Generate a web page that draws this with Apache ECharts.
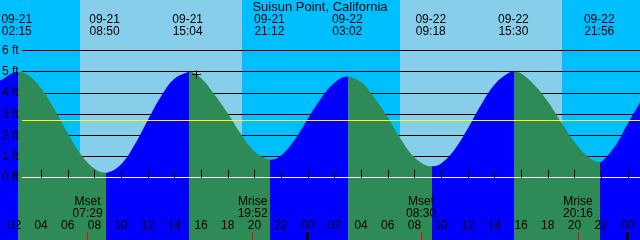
<!DOCTYPE html>
<html><head><meta charset="utf-8">
<script src="https://cdn.jsdelivr.net/npm/echarts@6/dist/echarts.min.js"></script>
<style>html,body{margin:0;padding:0;background:#00BFFF}#c{width:640px;height:240px}</style>
</head><body><div id="c"></div>
<script>
// ---------------- data ----------------
const title = 'Suisun Point, California';
const baseDay = 21;
const windowStartDate = '09-21';
const windowStartTime = '00:55';
const windowHours = 48;

// tide level readings (hours since 09-21 00:00, feet)
const tideHours = [0.917, 1, 2, 2.25, 3, 4, 5, 6, 7, 8, 8.833, 9, 10, 11, 12, 13, 14, 15, 15.067, 16, 17, 18, 19, 20, 21, 21.2, 22, 23, 24, 25, 26, 27, 27.033, 28, 29, 30, 31, 32, 33, 33.3, 34, 35, 36, 37, 38, 39, 39.5, 40, 41, 42, 43, 44, 45, 45.933, 46, 47, 48, 48.917];
const tideFeet  = [4.58, 4.6, 4.98, 5.0, 4.85, 4.22, 3.23, 2.10, 1.09, 0.43, 0.24, 0.25, 0.64, 1.55, 2.72, 3.85, 4.67, 4.99, 5.0, 4.7, 3.93, 3.04, 2.05, 1.25, 0.87, 0.85, 1.05, 1.78, 2.78, 3.74, 4.48, 4.78, 4.78, 4.52, 3.78, 2.84, 1.80, 0.97, 0.56, 0.54, 0.68, 1.32, 2.32, 3.44, 4.39, 4.92, 5.0, 4.92, 4.38, 3.6, 2.62, 1.7, 1.0, 0.73, 0.74, 1.45, 2.55, 3.55];

// high / low tide events
const extremaDates = ['09-21', '09-21', '09-21', '09-21', '09-22', '09-22', '09-22', '09-22'];
const extremaTimes = ['02:15', '08:50', '15:04', '21:12', '03:02', '09:18', '15:30', '21:56'];
const extremaKinds = ['high', 'low', 'high', 'low', 'high', 'low', 'high', 'low'];

// daylight
const dayStartDates = ['09-21', '09-22'];
const dayStartTimes = ['06:55', '06:55'];
const dayEndDates = ['09-21', '09-22'];
const dayEndTimes = ['19:04', '19:04'];

// moon events
const moonNames = ['Mset', 'Mrise', 'Mset', 'Mrise'];
const moonDates = ['09-21', '09-21', '09-22', '09-22'];
const moonTimes = ['07:29', '19:52', '08:30', '20:16'];

// level ticks (feet) and mean level
const levelTicks = [0, 1, 2, 3, 4, 5, 6];
const meanLevel = 2.70;

// hour ticks (hours since 09-21 00:00)
const hourTicks = [2, 4, 6, 8, 10, 12, 14, 16, 18, 20, 22, 24, 26, 28, 30, 32, 34, 36, 38, 40, 42, 44, 46, 48];
const midnightTicks = [24, 48];

// current time marker
const nowDate = '09-21';
const nowTime = '15:38';
const nowFeet = 4.86;

// ---------------- helpers ----------------
const FONT = '"Liberation Sans", Arial, Helvetica, sans-serif';
const NIGHT = '#00BFFF', DAY = '#87CEEB', RISING = '#0000FF', FALLING = '#2E8B57';
function toHour(date, time) {
  const d = parseInt(date.split('-')[1], 10);
  const p = time.split(':').map(Number);
  return (d - baseDay) * 24 + p[0] + p[1] / 60;
}
const xMin = toHour(windowStartDate, windowStartTime);
const xMax = xMin + windowHours;
const yMin = -2.934, yMax = 8.387;

const extremaHours = extremaDates.map((d, i) => toHour(d, extremaTimes[i]));
const moonHours = moonDates.map((d, i) => toHour(d, moonTimes[i]));
const dayBands = dayStartDates.map((d, i) => [toHour(d, dayStartTimes[i]), toHour(dayEndDates[i], dayEndTimes[i])]);
const nowHour = toHour(nowDate, nowTime);

// colour pieces: rising (blue) before a high, falling (green) before a low
const pieces = [];
let prev = xMin - 1;
let col = extremaKinds[0] === 'high' ? RISING : FALLING;
extremaHours.forEach((h, i) => {
  pieces.push({ gte: prev, lt: h, color: col });
  col = extremaKinds[i] === 'high' ? FALLING : RISING;
  prev = h;
});
pieces.push({ gte: prev, lte: xMax + 1, color: col });

function hLine(color) {
  return (params, api) => {
    const cs = params.coordSys;
    const y = Math.floor(api.coord([xMin, api.value(1)])[1]) + 0.5;
    return { type: 'line', shape: { x1: cs.x + 22, y1: y, x2: cs.x + cs.width, y2: y }, style: { stroke: color, lineWidth: 1 } };
  };
}

const chart = echarts.init(document.getElementById('c'), null, { renderer: 'canvas' });
chart.setOption({
  animation: false,
  backgroundColor: NIGHT,
  title: { text: title, left: 'center', top: 0, padding: [1, 0, 0, 0],
    textStyle: { fontSize: 13, fontWeight: 'normal', color: '#000', fontFamily: FONT } },
  grid: { left: 0, right: 0, top: 0, bottom: 0 },
  xAxis: {
    type: 'value', min: xMin, max: xMax, z: 5,
    axisLine: { show: false }, splitLine: { show: false },
    axisTick: { show: true, inside: true, length: 8, customValues: hourTicks, lineStyle: { color: '#000', width: 1 } },
    axisLabel: { show: true, inside: true, margin: 8, customValues: hourTicks,
      formatter: v => String(Math.round(v) % 24).padStart(2, '0'),
      color: '#000', fontSize: 12, fontFamily: FONT }
  },
  yAxis: { type: 'value', min: yMin, max: yMax, show: false },
  visualMap: { type: 'piecewise', show: false, dimension: 0, seriesIndex: 2, pieces: pieces },
  series: [
    { // daylight bands
      type: 'custom', z: 0, silent: true,
      data: dayBands, encode: { x: [0, 1] },
      renderItem: (params, api) => {
        const cs = params.coordSys;
        const x0 = Math.round(api.coord([api.value(0), 0])[0]);
        const x1 = Math.round(api.coord([api.value(1), 0])[0]);
        return { type: 'rect', shape: { x: x0, y: cs.y, width: x1 - x0, height: cs.height }, style: { fill: DAY } };
      }
    },
    { // level lines (behind tide)
      type: 'custom', z: 1, silent: true,
      data: levelTicks.filter(v => v !== 0).map(v => [xMin, v]),
      renderItem: hLine('#000')
    },
    { // tide
      type: 'line', z: 2, silent: true, smooth: 0.4, showSymbol: false, symbol: 'none',
      data: tideHours.map((h, i) => [h, tideFeet[i]]),
      lineStyle: { width: 0 },
      areaStyle: { opacity: 1, origin: 'start' }
    },
    { // zero line
      type: 'custom', z: 3, silent: true,
      data: [[xMin, 0]], renderItem: hLine('#FFFFFF')
    },
    { // mean line
      type: 'custom', z: 3, silent: true,
      data: [[xMin, meanLevel]], renderItem: hLine('#FFFF00')
    },
    { // level labels
      type: 'custom', z: 4, silent: true,
      data: levelTicks.map(v => [xMin, v]),
      renderItem: (params, api) => {
        const y = api.coord([xMin, api.value(1)])[1];
        return { type: 'text', x: 2, y: y, style: { text: api.value(1) + ' ft', fill: '#000', fontSize: 12, fontFamily: FONT, align: 'left', verticalAlign: 'middle' } };
      }
    },
    { // extrema labels
      type: 'custom', z: 4, silent: true,
      data: extremaHours.map(h => [h, 0]),
      renderItem: (params, api) => {
        const i = params.dataIndex;
        const x = api.coord([api.value(0), 0])[0];
        return { type: 'text', x: x - 1, y: 26, style: { text: extremaDates[i] + '\n' + extremaTimes[i], fill: '#000', fontSize: 12, fontFamily: FONT, align: 'center', verticalAlign: 'middle', lineHeight: 12 } };
      }
    },
    { // moon labels and ticks
      type: 'custom', z: 4, silent: true,
      data: moonHours.map(h => [h, 0]),
      renderItem: (params, api) => {
        const i = params.dataIndex;
        const cs = params.coordSys;
        const x = api.coord([api.value(0), 0])[0];
        const xt = Math.floor(x) + 0.5;
        const bottom = cs.y + cs.height;
        return { type: 'group', children: [
          { type: 'text', x: x, y: 208, style: { text: moonNames[i] + '\n' + moonTimes[i], fill: '#000', fontSize: 12, fontFamily: FONT, align: 'center', verticalAlign: 'middle', lineHeight: 12 } },
          { type: 'line', shape: { x1: xt, y1: bottom - 8, x2: xt, y2: bottom }, style: { stroke: '#FF0000', lineWidth: 1 } }
        ] };
      }
    },
    { // midnight ticks
      type: 'custom', z: 6, silent: true,
      data: midnightTicks.map(h => [h, 0]),
      renderItem: (params, api) => {
        const cs = params.coordSys;
        const x = Math.floor(api.coord([api.value(0), 0])[0]);
        const bottom = cs.y + cs.height;
        return { type: 'rect', shape: { x: x - 1, y: bottom - 8, width: 3, height: 8 }, style: { fill: '#000' } };
      }
    },
    { // current time marker
      type: 'custom', z: 6, silent: true,
      data: [[nowHour, nowFeet]],
      renderItem: (params, api) => {
        const p = api.coord([api.value(0), api.value(1)]);
        const cx = Math.floor(p[0]) + 0.5, cy = Math.floor(p[1]) + 0.5;
        return { type: 'group', children: [
          { type: 'line', shape: { x1: cx - 4.5, y1: cy, x2: cx + 4.5, y2: cy }, style: { stroke: '#000', lineWidth: 1 } },
          { type: 'line', shape: { x1: cx, y1: cy - 4, x2: cx, y2: cy + 4 }, style: { stroke: '#000', lineWidth: 1 } }
        ] };
      }
    }
  ]
});
</script>
</body></html>
